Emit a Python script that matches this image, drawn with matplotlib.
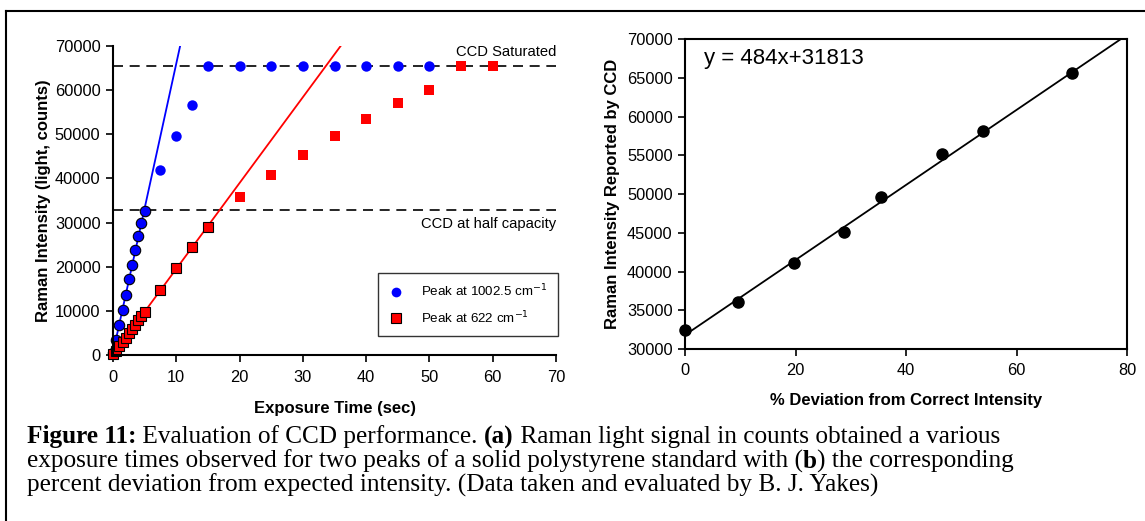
import numpy as np
import matplotlib
matplotlib.use("Agg")
import matplotlib.pyplot as plt
from matplotlib.lines import Line2D

plt.rcParams['font.family'] = ['Liberation Sans', 'DejaVu Sans']

# --- (a) exposure series ---
t_lin = [0, 0.5, 1, 1.5, 2, 2.5, 3, 3.5, 4, 4.5, 5]
blue_lin = [500, 3400, 6900, 10300, 13700, 17200, 20300, 23700, 27000, 30000, 32600]
red_lin = [200, 1000, 2000, 2950, 3900, 4900, 5900, 6900, 7900, 8900, 9800]

t_red_more = [7.5, 10, 12.5, 15]
red_more = [14800, 19700, 24500, 29000]

t_blue_sat = [7.5, 10, 12.5, 15, 20, 25, 30, 35, 40, 45, 50]
blue_sat = [42000, 49600, 56600, 65535, 65535, 65535, 65535, 65535, 65535, 65535, 65535]
t_red_sat = [20, 25, 30, 35, 40, 45, 50, 55, 60]
red_sat = [35700, 40700, 45200, 49500, 53500, 57200, 60000, 65535, 65535]

ccd_full = 65535
ccd_half = 32768

# --- (b) deviation series ---
deviation = [0, 9.5, 19.7, 28.8, 35.5, 46.5, 54, 70]
reported = [32500, 36100, 41100, 45100, 49600, 55100, 58100, 65600]
fit_slope = 484
fit_icpt = 31813

fig = plt.figure(figsize=(11.45, 5.21), dpi=100)

tick_kw = dict(direction='out', length=5, width=1.2, labelsize=11.8)
label_kw = dict(fontsize=12, fontweight='bold')


def style_ticks(ax, xpad):
    ax.tick_params(**tick_kw)
    ax.tick_params(axis='x', pad=xpad)
    ax.tick_params(axis='y', pad=4)


# ===== panel a =====
ax1 = fig.add_axes([0.0987, 0.3186, 0.3869, 0.5931])
ax1.set_xlim(0, 70)
ax1.set_ylim(0, 70000)
ax1.spines['top'].set_visible(False)
ax1.spines['right'].set_visible(False)
for s in ['left', 'bottom']:
    ax1.spines[s].set_linewidth(1.5)
style_ticks(ax1, 6)
ax1.set_xticks(range(0, 71, 10))
ax1.set_yticks(range(0, 70001, 10000))

ax1.axhline(ccd_full, color='black', lw=1.2, ls=(0, (6, 4)))
ax1.axhline(ccd_half, color='black', lw=1.2, ls=(0, (6, 4)))

# linear fits over the unsaturated points
t_red_fit = t_lin + t_red_more
red_fit = red_lin + red_more
pb = np.polyfit(t_lin, blue_lin, 1)
pr = np.polyfit(t_red_fit, red_fit, 1)
xb = np.array([0, 12])
xr = np.array([0, 40])
ax1.plot(xb, np.polyval(pb, xb), color='#0000FF', lw=1.3)
ax1.plot(xr, np.polyval(pr, xr), color='#FF0000', lw=1.3)

ax1.plot(t_blue_sat, blue_sat, 'o', color='#0000FF', ms=7.5, mew=0, clip_on=False)
ax1.plot(t_red_sat, red_sat, 's', color='#FF0000', ms=7, mew=0, clip_on=False)
ax1.plot(t_lin, blue_lin, 'o', mfc='#0000FF', mec='black', ms=7.5, mew=0.8, clip_on=False)
ax1.plot(t_red_fit, red_fit, 's', mfc='#FF0000', mec='black', ms=7, mew=0.8, clip_on=False)

ax1.text(70, ccd_full + 1500, 'CCD Saturated', ha='right', va='bottom', fontsize=10.6)
ax1.text(70, ccd_half - 1500, 'CCD at half capacity', ha='right', va='top', fontsize=10.6)

handles = [
    Line2D([], [], ls='none', marker='o', color='#0000FF', ms=7, mew=0),
    Line2D([], [], ls='none', marker='s', mfc='#FF0000', mec='black', ms=6.5, mew=0.8),
]
leg = ax1.legend(handles, ['Peak at 1002.5 cm$^{-1}$', 'Peak at 622 cm$^{-1}$'],
                 loc='lower right', bbox_to_anchor=(1.0045, 0.0615), fontsize=9.6,
                 frameon=True, fancybox=False, edgecolor='black', borderpad=0.75,
                 labelspacing=0.75, handlelength=1.2, handletextpad=1.3,
                 borderaxespad=0)
leg.get_frame().set_linewidth(1.0)

ax1.set_xlabel('Exposure Time (sec)', labelpad=11, **label_kw)
ax1.set_ylabel('Raman Intensity (light, counts)', labelpad=3, **label_kw)

# ===== panel b =====
ax2 = fig.add_axes([0.5983, 0.3301, 0.3860, 0.5950])
ax2.set_xlim(0, 80)
ax2.set_ylim(30000, 70000)
for s in ax2.spines.values():
    s.set_linewidth(1.5)
style_ticks(ax2, 5)
ax2.set_xticks(range(0, 81, 20))
ax2.set_yticks(range(30000, 70001, 5000))

xf = np.array([0, 80])
ax2.plot(xf, fit_slope * xf + fit_icpt, color='black', lw=1.3)
ax2.plot(deviation, reported, 'o', color='black', ms=8, clip_on=False)
ax2.text(3.5, 67500, 'y = %dx+%d' % (fit_slope, fit_icpt), fontsize=16, va='center')

ax2.set_xlabel('% Deviation from Correct Intensity', labelpad=11, **label_kw)
ax2.set_ylabel('Raman Intensity Reported by CCD', labelpad=5, **label_kw)

# ===== outer frame =====
fig.add_artist(Line2D([6 / 1145, 1], [1 - 11 / 521, 1 - 11 / 521], color='black', lw=1.5))
fig.add_artist(Line2D([6 / 1145, 6 / 1145], [0, 1 - 11 / 521], color='black', lw=1.5))

# ===== caption with bold pieces =====
cap_lines = [
    [("Figure 11:", True), (" Evaluation of CCD performance. ", False), ("(a)", True),
     (" Raman light signal in counts obtained a various", False)],
    [("exposure times observed for two peaks of a solid polystyrene standard with (", False),
     ("b", True), (") the corresponding", False)],
    [("percent deviation from expected intensity. (Data taken and evaluated by B. J. Yakes)", False)],
]
cap_y = [437, 461, 485]
renderer = fig.canvas.get_renderer()
for pieces, yp in zip(cap_lines, cap_y):
    x = 27
    for txt, bold in pieces:
        t = fig.text(x / 1145, 1 - yp / 521, txt, fontsize=18.2,
                     family=['Liberation Serif', 'DejaVu Serif'],
                     fontweight='bold' if bold else 'normal', va='center', ha='left')
        bb = t.get_window_extent(renderer)
        x = bb.x1

fig.savefig('out.png', dpi=100)
